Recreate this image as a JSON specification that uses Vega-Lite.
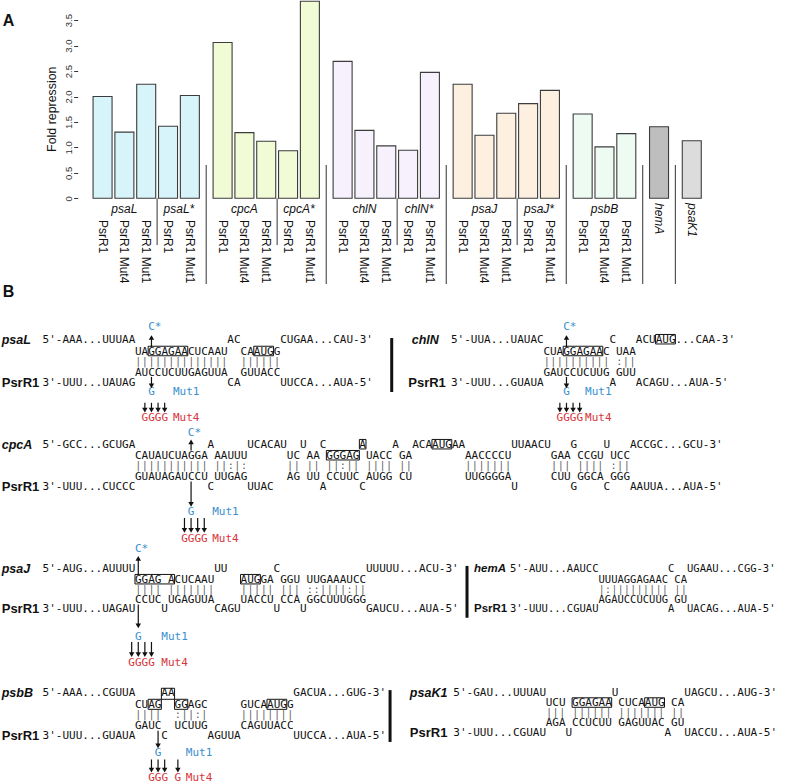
{
"$schema":"https://vega.github.io/schema/vega-lite/v6.json",
"width":797,"height":784,"padding":0,"autosize":{"type":"none"},
"background":"#ffffff",
"config":{"view":{"stroke":null},"font":"Liberation Sans"},
"datasets":{
"bars":[
{"target":"psaL","gene":"psaL","cond":"PsrR1","slot":0,"fold":2.0},
{"target":"psaL","gene":"psaL","cond":"PsrR1 Mut4","slot":1,"fold":1.30},
{"target":"psaL","gene":"psaL","cond":"PsrR1 Mut1","slot":2,"fold":2.24},
{"target":"psaL*","gene":"psaL","cond":"PsrR1","slot":3,"fold":1.415},
{"target":"psaL*","gene":"psaL","cond":"PsrR1 Mut1","slot":4,"fold":2.02},
{"target":"cpcA","gene":"cpcA","cond":"PsrR1","slot":5.5,"fold":3.06},
{"target":"cpcA","gene":"cpcA","cond":"PsrR1 Mut4","slot":6.5,"fold":1.29},
{"target":"cpcA","gene":"cpcA","cond":"PsrR1 Mut1","slot":7.5,"fold":1.12},
{"target":"cpcA*","gene":"cpcA","cond":"PsrR1","slot":8.5,"fold":0.935},
{"target":"cpcA*","gene":"cpcA","cond":"PsrR1 Mut1","slot":9.5,"fold":3.87},
{"target":"chlN","gene":"chlN","cond":"PsrR1","slot":11,"fold":2.69},
{"target":"chlN","gene":"chlN","cond":"PsrR1 Mut4","slot":12,"fold":1.335},
{"target":"chlN","gene":"chlN","cond":"PsrR1 Mut1","slot":13,"fold":1.03},
{"target":"chlN*","gene":"chlN","cond":"PsrR1","slot":14,"fold":0.945},
{"target":"chlN*","gene":"chlN","cond":"PsrR1 Mut1","slot":15,"fold":2.475},
{"target":"psaJ","gene":"psaJ","cond":"PsrR1","slot":16.5,"fold":2.24},
{"target":"psaJ","gene":"psaJ","cond":"PsrR1 Mut4","slot":17.5,"fold":1.24},
{"target":"psaJ","gene":"psaJ","cond":"PsrR1 Mut1","slot":18.5,"fold":1.67},
{"target":"psaJ*","gene":"psaJ","cond":"PsrR1","slot":19.5,"fold":1.86},
{"target":"psaJ*","gene":"psaJ","cond":"PsrR1 Mut1","slot":20.5,"fold":2.12},
{"target":"psbB","gene":"psbB","cond":"PsrR1","slot":22,"fold":1.655},
{"target":"psbB","gene":"psbB","cond":"PsrR1 Mut4","slot":23,"fold":1.01},
{"target":"psbB","gene":"psbB","cond":"PsrR1 Mut1","slot":24,"fold":1.27},
{"target":"hemA","gene":"hemA","cond":"","slot":25.5,"fold":1.405},
{"target":"psaK1","gene":"psaK1","cond":"","slot":27,"fold":1.13}
],
"groups":[
{"label":"psaL","at":1},{"label":"psaL*","at":3.5},{"label":"cpcA","at":6.5},{"label":"cpcA*","at":9},
{"label":"chlN","at":12},{"label":"chlN*","at":14.5},{"label":"psaJ","at":17.5},{"label":"psaJ*","at":20},{"label":"psbB","at":23}
],
"singles":[{"label":"hemA","at":25.5},{"label":"psaK1","at":27}],
"sepLong":[{"at":4.75},{"at":10.25},{"at":15.75},{"at":21.25},{"at":24.75},{"at":26.25}],
"sepShort":[{"at":2.5},{"at":8},{"at":13.5},{"at":19}],
"seq":[
{"X":6.45,"Y":31.5,"t":"5'-AAA...UUUAA"},{"X":34.45,"Y":31.5,"t":"AC"},{"X":42.45,"Y":31.5,"t":"CUGAA...CAU-3'"},
{"X":20.45,"Y":32.55,"t":"UAGGAGAACUCAAU"},{"X":36.45,"Y":32.55,"t":"CAAUGG"},
{"X":20.45,"Y":34.55,"t":"AUCCUCUUGAGUUA"},{"X":36.45,"Y":34.55,"t":"GUUACC"},
{"X":6.45,"Y":35.45,"t":"3'-UUU...UAUAG"},{"X":34.45,"Y":35.45,"t":"CA"},{"X":42.45,"Y":35.45,"t":"UUCCA...AUA-5'"},

{"X":68.33,"Y":31.5,"t":"5'-UUA...UAUAC"},{"X":92.33,"Y":31.5,"t":"C"},{"X":96.33,"Y":31.5,"t":"ACUAUG...CAA-3'"},
{"X":82.33,"Y":32.55,"t":"CUAGGAGAAC"},{"X":93.33,"Y":32.55,"t":"UAA"},
{"X":82.33,"Y":34.55,"t":"GAUCCUCUUG"},{"X":93.33,"Y":34.55,"t":"GUU"},
{"X":68.33,"Y":35.45,"t":"3'-UUU...GUAUA"},{"X":92.33,"Y":35.45,"t":"A"},{"X":96.33,"Y":35.45,"t":"ACAGU...AUA-5'"},

{"X":6.45,"Y":41.2,"t":"5'-GCC...GCUGA"},{"X":31.45,"Y":41.2,"t":"A"},{"X":37.45,"Y":41.2,"t":"UCACAU"},{"X":45.45,"Y":41.2,"t":"U"},{"X":48.45,"Y":41.2,"t":"C"},{"X":54.45,"Y":41.2,"t":"A"},{"X":59.45,"Y":41.2,"t":"A"},{"X":62.45,"Y":41.2,"t":"ACAAUGAA"},{"X":77.45,"Y":41.2,"t":"UUAACU"},{"X":86.45,"Y":41.2,"t":"G"},{"X":91.45,"Y":41.2,"t":"U"},{"X":95.45,"Y":41.2,"t":"ACCGC...GCU-3'"},
{"X":20.45,"Y":42.22,"t":"CAUAUCUAGGA"},{"X":32.45,"Y":42.22,"t":"AAUUU"},{"X":43.45,"Y":42.22,"t":"UC"},{"X":46.45,"Y":42.22,"t":"AA"},{"X":49.45,"Y":42.22,"t":"GGGAG"},{"X":55.45,"Y":42.22,"t":"UACC"},{"X":60.45,"Y":42.22,"t":"GA"},{"X":70.45,"Y":42.22,"t":"AACCCCU"},{"X":83.45,"Y":42.22,"t":"GAA"},{"X":87.45,"Y":42.22,"t":"CCGU"},{"X":92.45,"Y":42.22,"t":"UCC"},
{"X":20.45,"Y":44.17,"t":"GUAUAGAUCCU"},{"X":32.45,"Y":44.17,"t":"UUGAG"},{"X":43.45,"Y":44.17,"t":"AG"},{"X":46.45,"Y":44.17,"t":"UU"},{"X":49.45,"Y":44.17,"t":"CCUUC"},{"X":55.45,"Y":44.17,"t":"AUGG"},{"X":60.45,"Y":44.17,"t":"CU"},{"X":70.45,"Y":44.17,"t":"UUGGGGA"},{"X":83.45,"Y":44.17,"t":"CUU"},{"X":87.45,"Y":44.17,"t":"GGCA"},{"X":92.45,"Y":44.17,"t":"GGG"},
{"X":6.45,"Y":45.09,"t":"3'-UUU...CUCCC"},{"X":31.45,"Y":45.09,"t":"C"},{"X":37.45,"Y":45.09,"t":"UUAC"},{"X":48.45,"Y":45.09,"t":"A"},{"X":54.45,"Y":45.09,"t":"C"},{"X":77.45,"Y":45.09,"t":"U"},{"X":86.45,"Y":45.09,"t":"G"},{"X":91.45,"Y":45.09,"t":"C"},{"X":95.45,"Y":45.09,"t":"AAUUA...AUA-5'"},

{"X":6.45,"Y":52.69,"t":"5'-AUG...AUUUU"},{"X":32.45,"Y":52.69,"t":"UU"},{"X":41.45,"Y":52.69,"t":"C"},{"X":55.45,"Y":52.69,"t":"UUUUU...ACU-3'"},
{"X":20.45,"Y":53.7,"t":"GGAG"},{"X":25.45,"Y":53.7,"t":"ACUCAAU"},{"X":36.45,"Y":53.7,"t":"AUGGA"},{"X":42.45,"Y":53.7,"t":"GGU"},{"X":46.45,"Y":53.7,"t":"UUGAAAUCC"},
{"X":20.45,"Y":55.56,"t":"CCUC"},{"X":25.45,"Y":55.56,"t":"UGAGUUA"},{"X":36.45,"Y":55.56,"t":"UACCU"},{"X":42.45,"Y":55.56,"t":"CCA"},{"X":46.45,"Y":55.56,"t":"GGCUUUGGG"},
{"X":6.45,"Y":56.42,"t":"3'-UUU...UAGAU"},{"X":24.45,"Y":56.42,"t":"U"},{"X":32.45,"Y":56.42,"t":"CAGU"},{"X":41.45,"Y":56.42,"t":"U"},{"X":45.45,"Y":56.42,"t":"U"},{"X":55.45,"Y":56.42,"t":"GAUCU...AUA-5'"},

{"X":6.45,"Y":64.17,"t":"5'-AAA...CGUUA"},{"X":24.45,"Y":64.17,"t":"AA"},{"X":44.45,"Y":64.17,"t":"GACUA...GUG-3'"},
{"X":20.45,"Y":65.25,"t":"CUAG"},{"X":26.45,"Y":65.25,"t":"GGAGC"},{"X":36.45,"Y":65.25,"t":"GUCAAUGG"},
{"X":20.45,"Y":67.25,"t":"GAUC"},{"X":26.45,"Y":67.25,"t":"UCUUG"},{"X":36.45,"Y":67.25,"t":"CAGUUACC"},
{"X":6.45,"Y":68.12,"t":"3'-UUU...GUAUA"},{"X":24.45,"Y":68.12,"t":"C"},{"X":31.45,"Y":68.12,"t":"AGUUA"},{"X":44.45,"Y":68.12,"t":"UUCCA...AUA-5'"},

{"X":68.68,"Y":64.14,"t":"5'-GAU...UUUAU"},{"X":92.68,"Y":64.14,"t":"U"},{"X":103.68,"Y":64.14,"t":"UAGCU...AUG-3'"},
{"X":82.68,"Y":65.12,"t":"UCU"},{"X":86.68,"Y":65.12,"t":"GGAGAA"},{"X":93.68,"Y":65.12,"t":"CUCAAUG"},{"X":101.68,"Y":65.12,"t":"CA"},
{"X":82.68,"Y":66.97,"t":"AGA"},{"X":86.68,"Y":66.97,"t":"CCUCUU"},{"X":93.68,"Y":66.97,"t":"GAGUUAC"},{"X":101.68,"Y":66.97,"t":"GU"},
{"X":68.68,"Y":67.9,"t":"3'-UUU...CGUAU"},{"X":85.68,"Y":67.9,"t":"U"},{"X":100.68,"Y":67.9,"t":"A"},{"X":103.68,"Y":67.9,"t":"UACCU...AUA-5'"}
],
"pairs":[
{"X":20.45,"Y":33.5,"t":"||||||||||||||"},{"X":36.45,"Y":33.5,"t":"||||||"},
{"X":82.33,"Y":33.5,"t":"||||||||||"},{"X":93.33,"Y":33.5,"t":":||"},
{"X":20.45,"Y":43.15,"t":"|||||||||||"},{"X":32.45,"Y":43.15,"t":"||:|:"},{"X":43.45,"Y":43.15,"t":"||"},{"X":46.45,"Y":43.15,"t":"||"},{"X":49.45,"Y":43.15,"t":"||:||"},{"X":55.45,"Y":43.15,"t":"||||"},{"X":60.45,"Y":43.15,"t":"||"},{"X":70.45,"Y":43.15,"t":"|||||||"},{"X":83.45,"Y":43.15,"t":"|||"},{"X":87.45,"Y":43.15,"t":"||||"},{"X":92.45,"Y":43.15,"t":":||"},
{"X":20.45,"Y":54.63,"t":"||||"},{"X":25.45,"Y":54.63,"t":"|||||||"},{"X":36.45,"Y":54.63,"t":"|||||"},{"X":42.45,"Y":54.63,"t":"|||"},{"X":46.45,"Y":54.63,"t":"::||||:||"},
{"X":20.45,"Y":66.18,"t":"||||"},{"X":26.45,"Y":66.18,"t":":||:|"},{"X":36.45,"Y":66.18,"t":"||||||||"},
{"X":82.68,"Y":65.99,"t":"|||"},{"X":86.68,"Y":65.99,"t":"||||||"},{"X":93.68,"Y":65.99,"t":"|||||||"},{"X":101.68,"Y":65.99,"t":"||"}
],
"hem":[
{"X":77.27,"Y":52.69,"t":"5'-AUU...AAUCC"},{"X":101.21,"Y":52.69,"t":"C"},{"X":104.09,"Y":52.69,"t":"UGAAU...CGG-3'"},
{"X":90.68,"Y":53.7,"t":"UUUAGGAGAAC"},{"X":102.17,"Y":53.7,"t":"CA"},
{"X":90.68,"Y":55.56,"t":"AGAUCCUCUUG"},{"X":102.17,"Y":55.56,"t":"GU"},
{"X":77.27,"Y":56.42,"t":"3'-UUU...CGUAU"},{"X":101.21,"Y":56.42,"t":"A"},{"X":104.09,"Y":56.42,"t":"UACAG...AUA-5'"}
],
"hemPairs":[{"X":90.68,"Y":54.63,"t":"|:|||||||||"},{"X":102.17,"Y":54.63,"t":"||"}],
"boxes":[
{"X":22.45,"X2":28.45,"Y":32.06,"Y2":32.94},{"X":38.45,"X2":41.45,"Y":32.06,"Y2":32.94},
{"X":85.33,"X2":91.33,"Y":32.06,"Y2":32.94},{"X":99.33,"X2":102.33,"Y":30.97,"Y2":31.85},
{"X":54.45,"X2":55.45,"Y":40.69,"Y2":41.57},{"X":49.45,"X2":54.45,"Y":41.71,"Y2":42.59},{"X":65.45,"X2":68.45,"Y":40.69,"Y2":41.57},
{"X":20.45,"X2":26.45,"Y":53.19,"Y2":54.07},{"X":36.45,"X2":39.45,"Y":53.19,"Y2":54.07},
{"X":24.45,"X2":26.45,"Y":63.73,"Y2":64.75},{"X":22.45,"X2":24.45,"Y":64.75,"Y2":65.68},{"X":26.45,"X2":28.45,"Y":64.75,"Y2":65.68},{"X":40.45,"X2":43.45,"Y":64.75,"Y2":65.68},
{"X":86.68,"X2":92.68,"Y":64.61,"Y2":65.49},{"X":97.68,"X2":100.68,"Y":64.61,"Y2":65.49}
],
"blue":[
{"X":22.45,"Y":30.28,"t":"C*"},{"X":22.45,"Y":36.32,"t":"G"},{"X":26.2,"Y":36.32,"t":"Mut1"},
{"X":85.33,"Y":30.28,"t":"C*"},{"X":85.33,"Y":36.32,"t":"G"},{"X":88.64,"Y":36.32,"t":"Mut1"},
{"X":28.45,"Y":40.09,"t":"C*"},{"X":28.45,"Y":47.41,"t":"G"},{"X":32.15,"Y":47.41,"t":"Mut1"},
{"X":20.45,"Y":50.83,"t":"C*"},{"X":20.45,"Y":58.95,"t":"G"},{"X":24.45,"Y":58.95,"t":"Mut1"},
{"X":23.45,"Y":69.75,"t":"G"},{"X":28.15,"Y":69.75,"t":"Mut1"}
],
"red":[
{"X":21.45,"Y":38.73,"t":"GGGG"},{"X":26.2,"Y":38.73,"t":"Mut4"},
{"X":84.33,"Y":38.73,"t":"GGGG"},{"X":88.64,"Y":38.73,"t":"Mut4"},
{"X":27.45,"Y":49.91,"t":"GGGG"},{"X":32.15,"Y":49.91,"t":"Mut4"},
{"X":19.45,"Y":61.36,"t":"GGGG"},{"X":24.45,"Y":61.36,"t":"Mut4"},
{"X":22.45,"Y":72.06,"t":"GGG"},{"X":26.45,"Y":72.06,"t":"G"},{"X":28.15,"Y":72.06,"t":"Mut4"}
],
"shafts":[
{"X":22.95,"Y":32.15,"Y2":31.3},{"X":22.95,"Y":34.9,"Y2":35.7},
{"X":21.95,"Y":37.3,"Y2":37.95},{"X":22.95,"Y":37.3,"Y2":37.95},{"X":23.95,"Y":37.3,"Y2":37.95},{"X":24.95,"Y":37.3,"Y2":37.95},
{"X":85.83,"Y":32.15,"Y2":31.3},{"X":85.83,"Y":34.9,"Y2":35.7},
{"X":84.83,"Y":37.3,"Y2":37.95},{"X":85.83,"Y":37.3,"Y2":37.95},{"X":86.83,"Y":37.3,"Y2":37.95},{"X":87.83,"Y":37.3,"Y2":37.95},
{"X":28.95,"Y":41.71,"Y2":40.95},{"X":28.95,"Y":44.58,"Y2":46.67},
{"X":27.95,"Y":47.96,"Y2":49.07},{"X":28.95,"Y":47.96,"Y2":49.07},{"X":29.95,"Y":47.96,"Y2":49.07},{"X":30.95,"Y":47.96,"Y2":49.07},
{"X":20.95,"Y":53.19,"Y2":51.75},{"X":20.95,"Y":55.97,"Y2":57.9},
{"X":19.95,"Y":59.44,"Y2":60.55},{"X":20.95,"Y":59.44,"Y2":60.55},{"X":21.95,"Y":59.44,"Y2":60.55},{"X":22.95,"Y":59.44,"Y2":60.55},
{"X":23.95,"Y":67.67,"Y2":69.02},
{"X":22.95,"Y":70.32,"Y2":71.27},{"X":23.95,"Y":70.32,"Y2":71.27},{"X":24.95,"Y":70.32,"Y2":71.27},{"X":26.95,"Y":70.32,"Y2":71.27}
],
"heads":[
{"X":22.95,"Y":31.25,"dir":"up"},{"X":22.95,"Y":35.72,"dir":"down"},
{"X":21.95,"Y":37.98,"dir":"down"},{"X":22.95,"Y":37.98,"dir":"down"},{"X":23.95,"Y":37.98,"dir":"down"},{"X":24.95,"Y":37.98,"dir":"down"},
{"X":85.83,"Y":31.25,"dir":"up"},{"X":85.83,"Y":35.72,"dir":"down"},
{"X":84.83,"Y":37.98,"dir":"down"},{"X":85.83,"Y":37.98,"dir":"down"},{"X":86.83,"Y":37.98,"dir":"down"},{"X":87.83,"Y":37.98,"dir":"down"},
{"X":28.95,"Y":40.91,"dir":"up"},{"X":28.95,"Y":46.71,"dir":"down"},
{"X":27.95,"Y":49.12,"dir":"down"},{"X":28.95,"Y":49.12,"dir":"down"},{"X":29.95,"Y":49.12,"dir":"down"},{"X":30.95,"Y":49.12,"dir":"down"},
{"X":20.95,"Y":51.7,"dir":"up"},{"X":20.95,"Y":57.96,"dir":"down"},
{"X":19.95,"Y":60.61,"dir":"down"},{"X":20.95,"Y":60.61,"dir":"down"},{"X":21.95,"Y":60.61,"dir":"down"},{"X":22.95,"Y":60.61,"dir":"down"},
{"X":23.95,"Y":69.07,"dir":"down"},
{"X":22.95,"Y":71.31,"dir":"down"},{"X":23.95,"Y":71.31,"dir":"down"},{"X":24.95,"Y":71.31,"dir":"down"},{"X":26.95,"Y":71.31,"dir":"down"}
],
"seps":[{"X":59.35,"Y":31.3,"Y2":36.3},{"X":70.76,"Y":52.4,"Y2":57.2},{"X":59.1,"Y":63.9,"Y2":68.7}],
"genes":[
{"X":0.26,"Y":31.5,"t":"psaL"},{"X":62.38,"Y":31.5,"t":"chlN"},{"X":0.26,"Y":41.2,"t":"cpcA"},{"X":0.26,"Y":52.69,"t":"psaJ"},{"X":0.26,"Y":64.17,"t":"psbB"},{"X":62.1,"Y":64.14,"t":"psaK1"}
],
"psr":[
{"X":0.26,"Y":35.45,"t":"PsrR1"},{"X":61.86,"Y":35.45,"t":"PsrR1"},{"X":0.26,"Y":45.09,"t":"PsrR1"},{"X":0.26,"Y":56.42,"t":"PsrR1"},{"X":0.26,"Y":68.12,"t":"PsrR1"},{"X":62.1,"Y":67.9,"t":"PsrR1"}
],
"hemGene":[{"X":71.82,"Y":52.69,"t":"hemA"}],
"hemPsr":[{"X":71.82,"Y":56.42,"t":"PsrR1"}],
"panels":[{"X":0.41,"Y":1.93,"t":"A"},{"X":0.41,"Y":27.0,"t":"B"}]
},
"layer":[
{"layer":[
{"data":{"name":"bars"},"mark":{"type":"bar","width":19,"stroke":"#3c3c3c","strokeWidth":1.1},
 "encoding":{
  "x":{"field":"slot","type":"quantitative","scale":{"domain":[-4.471,31.593],"nice":false,"zero":false},"axis":null},
  "y":{"field":"fold","type":"quantitative","scale":{"domain":[-11.507,3.896],"nice":false,"zero":false},
   "axis":{"values":[0,0.5,1,1.5,2,2.5,3,3.5],"offset":-77.7,"domain":false,"grid":false,"tickSize":4,"tickColor":"#333","tickWidth":1,"labelAngle":-90,"labelAlign":"center","labelBaseline":"middle","labelPadding":5,"labelFontSize":9.5,"labelColor":"#333","labelExpr":"datum.value == 0 ? '0' : format(datum.value, '.1f')","labelOverlap":false,"labelFlush":false,"title":"Fold repression","titleFontSize":12.4,"titleFontWeight":"normal","titleColor":"#111","titleAngle":-90,"titleX":-25.7,"titleY":108.7,"titleAlign":"center","titleBaseline":"middle"}},
  "y2":{"datum":0},
  "color":{"field":"gene","type":"nominal","scale":{"domain":["psaL","cpcA","chlN","psaJ","psbB","hemA","psaK1"],"range":["#d7f4fb","#f1fbd5","#f6f1fc","#fdf0e0","#eefbf2","#bebebe","#dcdcdc"]},"legend":null}
 }},
{"mark":{"type":"rule","color":"#333","strokeWidth":1},"encoding":{"x":{"datum":-0.955,"axis":null},"y":{"datum":0},"y2":{"datum":3.5}}},
{"mark":{"type":"rule","color":"#444","strokeWidth":0.9},"encoding":{"x":{"datum":-0.955,"axis":null},"x2":{"datum":27.385},"y":{"datum":1}}},
{"data":{"name":"bars"},"mark":{"type":"text","angle":90,"align":"left","baseline":"middle","fontSize":12,"color":"#111"},
 "encoding":{"x":{"field":"slot","type":"quantitative","axis":null},"y":{"datum":-0.426},"text":{"field":"cond"}}},
{"data":{"name":"groups"},"mark":{"type":"text","fontStyle":"italic","fontSize":12,"align":"center","baseline":"middle","color":"#111"},
 "encoding":{"x":{"field":"at","type":"quantitative","axis":null},"y":{"datum":-0.21},"text":{"field":"label"}}},
{"data":{"name":"singles"},"mark":{"type":"text","fontStyle":"italic","fontSize":12,"angle":90,"align":"left","baseline":"middle","color":"#111"},
 "encoding":{"x":{"field":"at","type":"quantitative","axis":null},"y":{"datum":-0.092},"text":{"field":"label"}}},
{"data":{"name":"sepLong"},"mark":{"type":"rule","color":"#555","strokeWidth":1.2},
 "encoding":{"x":{"field":"at","type":"quantitative","axis":null},"y":{"datum":0.654},"y2":{"datum":-1.684}}},
{"data":{"name":"sepShort"},"mark":{"type":"rule","color":"#555","strokeWidth":1.2},
 "encoding":{"x":{"field":"at","type":"quantitative","axis":null},"y":{"datum":0},"y2":{"datum":-0.917}}}
]},
{"layer":[
{"data":{"name":"seq"},"mark":{"type":"text","font":"DejaVu Sans Mono","fontSize":11,"align":"left","baseline":"middle","color":"#111"},
 "encoding":{"x":{"field":"X","type":"quantitative","scale":{"domain":[0,120.758],"nice":false,"zero":false},"axis":null},
  "y":{"field":"Y","type":"quantitative","scale":{"domain":[0,72.593],"nice":false,"zero":false,"reverse":true},"axis":null},
  "text":{"field":"t"}}},
{"data":{"name":"pairs"},"mark":{"type":"text","font":"DejaVu Sans Mono","fontSize":11,"align":"left","baseline":"middle","color":"#555555","fillOpacity":0.9},
 "encoding":{"x":{"field":"X","type":"quantitative","axis":null},"y":{"field":"Y","type":"quantitative","axis":null},"text":{"field":"t"}}},
{"data":{"name":"hem"},"mark":{"type":"text","font":"DejaVu Sans Mono","fontSize":10.5,"align":"left","baseline":"middle","color":"#111"},
 "encoding":{"x":{"field":"X","type":"quantitative","axis":null},"y":{"field":"Y","type":"quantitative","axis":null},"text":{"field":"t"}}},
{"data":{"name":"hemPairs"},"mark":{"type":"text","font":"DejaVu Sans Mono","fontSize":10.5,"align":"left","baseline":"middle","color":"#555555","fillOpacity":0.9},
 "encoding":{"x":{"field":"X","type":"quantitative","axis":null},"y":{"field":"Y","type":"quantitative","axis":null},"text":{"field":"t"}}},
{"data":{"name":"boxes"},"mark":{"type":"rect","fillOpacity":0,"stroke":"#111","strokeWidth":1},
 "encoding":{"x":{"field":"X","type":"quantitative","axis":null},"x2":{"field":"X2"},"y":{"field":"Y","type":"quantitative","axis":null},"y2":{"field":"Y2"}}},
{"data":{"name":"blue"},"mark":{"type":"text","font":"DejaVu Sans Mono","fontSize":11,"align":"left","baseline":"middle","color":"#3a8fcf"},
 "encoding":{"x":{"field":"X","type":"quantitative","axis":null},"y":{"field":"Y","type":"quantitative","axis":null},"text":{"field":"t"}}},
{"data":{"name":"red"},"mark":{"type":"text","font":"DejaVu Sans Mono","fontSize":11,"align":"left","baseline":"middle","color":"#d8343b"},
 "encoding":{"x":{"field":"X","type":"quantitative","axis":null},"y":{"field":"Y","type":"quantitative","axis":null},"text":{"field":"t"}}},
{"data":{"name":"shafts"},"mark":{"type":"rule","color":"#111","strokeWidth":1.2},
 "encoding":{"x":{"field":"X","type":"quantitative","axis":null},"y":{"field":"Y","type":"quantitative","axis":null},"y2":{"field":"Y2"}}},
{"data":{"name":"heads"},"mark":{"type":"point","filled":true,"color":"#111","size":30,"opacity":1},
 "encoding":{"x":{"field":"X","type":"quantitative","axis":null},"y":{"field":"Y","type":"quantitative","axis":null},
  "shape":{"field":"dir","type":"nominal","scale":{"domain":["up","down"],"range":["triangle-up","triangle-down"]},"legend":null}}},
{"data":{"name":"seps"},"mark":{"type":"rule","color":"#111","strokeWidth":3},
 "encoding":{"x":{"field":"X","type":"quantitative","axis":null},"y":{"field":"Y","type":"quantitative","axis":null},"y2":{"field":"Y2"}}},
{"data":{"name":"genes"},"mark":{"type":"text","fontWeight":"bold","fontStyle":"italic","fontSize":12.5,"align":"left","baseline":"middle","color":"#111"},
 "encoding":{"x":{"field":"X","type":"quantitative","axis":null},"y":{"field":"Y","type":"quantitative","axis":null},"text":{"field":"t"}}},
{"data":{"name":"psr"},"mark":{"type":"text","fontWeight":"bold","fontSize":13,"align":"left","baseline":"middle","color":"#111"},
 "encoding":{"x":{"field":"X","type":"quantitative","axis":null},"y":{"field":"Y","type":"quantitative","axis":null},"text":{"field":"t"}}},
{"data":{"name":"hemGene"},"mark":{"type":"text","fontWeight":"bold","fontStyle":"italic","fontSize":11.5,"align":"left","baseline":"middle","color":"#111"},
 "encoding":{"x":{"field":"X","type":"quantitative","axis":null},"y":{"field":"Y","type":"quantitative","axis":null},"text":{"field":"t"}}},
{"data":{"name":"hemPsr"},"mark":{"type":"text","fontWeight":"bold","fontSize":11.5,"align":"left","baseline":"middle","color":"#111"},
 "encoding":{"x":{"field":"X","type":"quantitative","axis":null},"y":{"field":"Y","type":"quantitative","axis":null},"text":{"field":"t"}}},
{"data":{"name":"panels"},"mark":{"type":"text","fontWeight":"bold","fontSize":16,"align":"left","baseline":"middle","color":"#111"},
 "encoding":{"x":{"field":"X","type":"quantitative","axis":null},"y":{"field":"Y","type":"quantitative","axis":null},"text":{"field":"t"}}}
]}
],
"resolve":{"scale":{"x":"independent","y":"independent"}}
}
